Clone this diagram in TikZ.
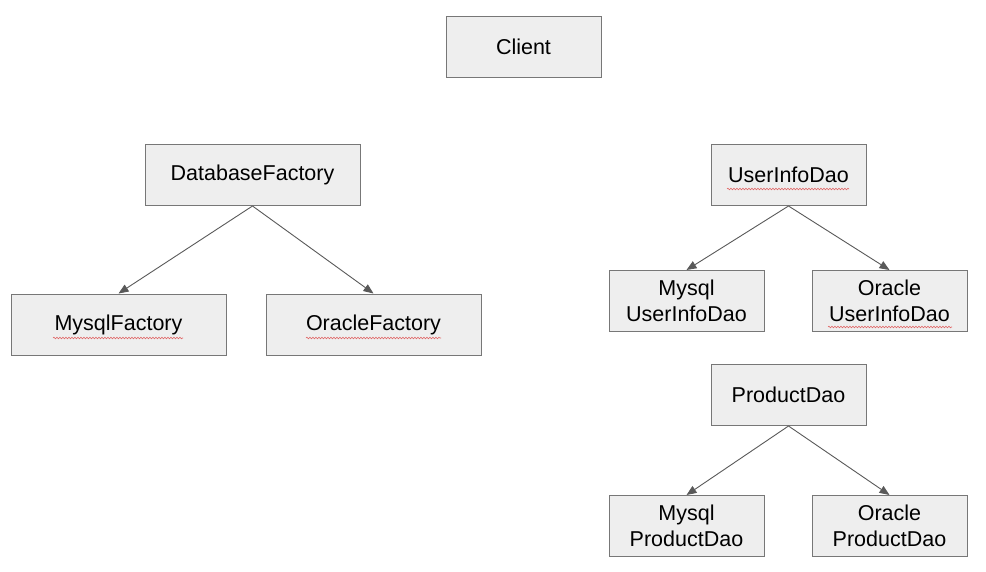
\documentclass[tikz,border=0pt]{standalone}
\usepackage{fontspec}
\setmainfont{Liberation Sans}
\usepackage{tikz}
\usetikzlibrary{arrows.meta,decorations.pathmorphing}
\definecolor{boxfill}{HTML}{EEEEEE}
\definecolor{boxline}{HTML}{777777}
\definecolor{arrline}{HTML}{595959}
\definecolor{spellred}{HTML}{E06666}

\begin{document}
\begin{tikzpicture}[x=1pt, y=-1pt,
   box/.style={draw=boxline, fill=boxfill, line width=1pt, inner sep=0pt,
      minimum height=61pt, align=center,
      font=\fontsize{21.5}{25.5}\selectfont},
   wide/.style={box, minimum width=215pt},
   narrow/.style={box, minimum width=155pt},
   link/.style={draw=arrline, line width=0.9pt, -{Triangle[length=10pt,width=8pt]}},
   squiggle/.style={draw=spellred, line width=0.6pt,
      decorate, decoration={snake, segment length=3pt, amplitude=0.8pt}}]

   \useasboundingbox (0,0) rectangle (986,571);

   \node[narrow] (client) at (523.5,46.5) {Client};

   % factories
   \node[wide] (dbfactory) at (252.5,175) {DatabaseFactory};
   \node[wide] (mysqlfactory) at (118.5,324.5) {MysqlFactory};
   \node[wide] (oraclefactory) at (373.5,324.5) {OracleFactory};

   % daos
   \node[narrow] (userdao) at (788.5,175) {UserInfoDao};
   \node[narrow] (mysqluserdao) at (686.5,301) {Mysql\\UserInfoDao};
   \node[narrow] (oracleuserdao) at (889.5,301) {Oracle\\UserInfoDao};

   \node[narrow] (productdao) at (788.5,395) {ProductDao};
   \node[narrow] (mysqlproductdao) at (686.5,526) {Mysql\\ProductDao};
   \node[narrow] (oracleproductdao) at (889.5,526) {Oracle\\ProductDao};

   \draw[link] (dbfactory.south) -- (mysqlfactory.north);
   \draw[link] (dbfactory.south) -- (oraclefactory.north);
   \draw[link] (userdao.south) -- (mysqluserdao.north);
   \draw[link] (userdao.south) -- (oracleuserdao.north);
   \draw[link] (productdao.south) -- (mysqlproductdao.north);
   \draw[link] (productdao.south) -- (oracleproductdao.north);

   % spell-check marks
   \draw[squiggle] (53,338) -- (183,338);
   \draw[squiggle] (306,338) -- (441,338);
   \draw[squiggle] (727,189) -- (849,189);
   \draw[squiggle] (828,327) -- (952,327);

\end{tikzpicture}
\end{document}
